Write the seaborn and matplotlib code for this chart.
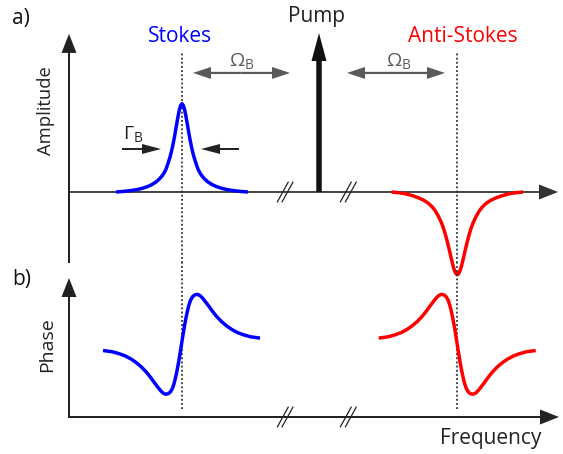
import matplotlib
matplotlib.use("Agg")
import matplotlib.pyplot as plt
import seaborn as sns
import pandas as pd
from matplotlib.patches import FancyArrowPatch

# ---------------- data ----------------
# frequency in arbitrary units measured from the axes origin
# amplitude normalised to the Stokes peak
stokes_freq = [4.7, 5.4, 6.1, 6.8, 7.4, 7.9, 8.3, 8.7, 9.0, 9.3, 9.5, 9.7, 9.9, 10.1,
               10.25, 10.4, 10.55, 10.7, 10.85, 11.0, 11.15, 11.3,
               11.45, 11.6, 11.75, 11.9, 12.05, 12.2, 12.35, 12.5, 12.7, 12.9, 13.1,
               13.3, 13.6, 13.9, 14.3, 14.7, 15.2, 15.8, 16.5, 17.2, 17.9]
stokes_amp = [0.0, 0.006, 0.015, 0.027, 0.044, 0.063, 0.085, 0.113, 0.143, 0.181, 0.215,
              0.258, 0.324, 0.395, 0.461, 0.538, 0.626, 0.724, 0.823, 0.913, 0.977, 1.0,
              0.977, 0.913, 0.823, 0.724, 0.626, 0.538, 0.461, 0.395, 0.324, 0.258, 0.215,
              0.181, 0.143, 0.113, 0.085, 0.063, 0.044, 0.027, 0.015, 0.006, 0.0]

anti_freq = [32.26, 33.03, 33.73, 34.43, 35.03, 35.53, 35.93, 36.33, 36.63, 36.93, 37.23,
             37.43, 37.63, 37.83, 38.03, 38.23, 38.38, 38.53, 38.68, 38.83,
             38.98, 39.13, 39.28, 39.43, 39.63, 39.83, 40.03, 40.23, 40.43, 40.73, 41.03,
             41.33, 41.73, 42.13, 42.63, 43.23, 43.93, 44.63, 45.4]
anti_amp = [0.0, -0.009, -0.022, -0.045, -0.070, -0.097, -0.127, -0.170, -0.214, -0.273,
            -0.344, -0.404, -0.476, -0.561, -0.655, -0.754, -0.824, -0.883, -0.923, -0.937,
            -0.923, -0.883, -0.824, -0.754, -0.655, -0.561, -0.476, -0.404, -0.344, -0.273,
            -0.214, -0.170, -0.127, -0.097, -0.070, -0.045, -0.022, -0.009, 0.0]

pump_freq = 25.0
pump_amp = 1.8

stokes_center = 11.3
anti_center = 38.83

# phase (arbitrary units above the frequency axis)
stokes_phase_freq = [3.4, 4.35, 5.05, 5.65, 6.25, 6.75, 7.25, 7.75, 8.15, 8.5, 8.85, 9.15,
                     9.4, 9.67, 9.95, 10.15, 10.35, 10.5, 10.65, 10.8, 10.95, 11.1, 11.25,
                     11.4, 11.55, 11.7, 11.85, 12.0, 12.15, 12.35, 12.55, 12.83, 13.1, 13.35,
                     13.65, 14.0, 14.35, 14.75, 15.25, 15.75, 16.25, 16.85, 17.45, 18.15, 19.1]
stokes_phase = [1.33, 1.304, 1.264, 1.219, 1.154, 1.084, 0.999, 0.894, 0.794, 0.697, 0.604,
                0.529, 0.479, 0.454, 0.469, 0.504, 0.574, 0.664, 0.784, 0.924, 1.084, 1.264,
                1.454, 1.644, 1.824, 1.984, 2.124, 2.244, 2.334, 2.404, 2.439, 2.454, 2.429,
                2.379, 2.304, 2.211, 2.114, 2.014, 1.909, 1.824, 1.754, 1.689, 1.644, 1.604,
                1.578]

anti_phase_freq = [30.97, 31.92, 32.62, 33.22, 33.82, 34.32, 34.82, 35.32, 35.72, 36.07,
                   36.42, 36.72, 36.97, 37.24, 37.52, 37.72, 37.92, 38.07, 38.22, 38.37,
                   38.52, 38.67, 38.82, 38.97, 39.12, 39.27, 39.42, 39.57, 39.72, 39.92,
                   40.12, 40.4, 40.67, 40.92, 41.22, 41.57, 41.92, 42.32, 42.82, 43.32,
                   43.82, 44.42, 45.02, 45.72, 46.67]
anti_phase = [1.578, 1.604, 1.644, 1.689, 1.754, 1.824, 1.909, 2.014, 2.114, 2.211, 2.304,
              2.379, 2.429, 2.454, 2.439, 2.404, 2.334, 2.244, 2.124, 1.984, 1.824, 1.644,
              1.454, 1.264, 1.084, 0.924, 0.784, 0.664, 0.574, 0.504, 0.469, 0.454, 0.479,
              0.529, 0.604, 0.697, 0.794, 0.894, 0.999, 1.084, 1.154, 1.219, 1.264, 1.304,
              1.33]

# ---------------- style ----------------
sns.set_theme(style="white")
plt.rcParams["font.family"] = ["Open Sans", "DejaVu Sans"]

W, H = 563, 454
fig = plt.figure(figsize=(W / 100, H / 100), dpi=100)
axA = fig.add_axes([0, 191 / H, 1, 263 / H])
axB = fig.add_axes([0, 0, 1, 191 / H])

BLUE = "#0000ff"
RED = "#ff0000"
DARK = "#222222"
GRAY = "#5a5a5a"


def arrow(ax, start, end, color, tail, hw, hl, z=3):
    ax.add_patch(FancyArrowPatch(
        start, end,
        arrowstyle=f"simple,tail_width={tail},head_width={hw},head_length={hl}",
        mutation_scale=0.72, fc=color, ec="none", lw=0,
        shrinkA=0, shrinkB=0, zorder=z, clip_on=False))


def ftext(x, y, s, **kw):
    fig.text(x / W, 1 - y / H, s, **kw)


# ---------------- curves ----------------
kw = dict(lw=2.5, solid_capstyle="butt", solid_joinstyle="round", zorder=5,
          legend=False, clip_on=False)
sns.lineplot(x=stokes_freq, y=stokes_amp, ax=axA, color=BLUE, **kw)
sns.lineplot(x=anti_freq, y=anti_amp, ax=axA, color=RED, **kw)
sns.lineplot(x=stokes_phase_freq, y=stokes_phase, ax=axB, color=BLUE, **kw)
sns.lineplot(x=anti_phase_freq, y=anti_phase, ax=axB, color=RED, **kw)
for ax in (axA, axB):
    ax.set_xlim(-6.9, 49.4)
    ax.axis("off")
axA.set_ylim(-0.804, 2.174)
axB.set_ylim(-0.74, 3.08)

# ---------------- axes arrows ----------------
arrow(axA, (0, -0.804), (0, 1.79), DARK, 2.0, 15, 19)
arrow(axA, (0, 0), (48.9, 0), "#333333", 1.8, 15, 19, z=2)
arrow(axB, (0, 0), (0, 2.78), DARK, 2.0, 15, 19)
arrow(axB, (-0.1, 0), (49.0, 0), DARK, 2.0, 15, 19)

# break marks
for ax, dy in ((axA, 10 / 88.3), (axB, 0.2)):
    for bx in (21.38, 21.85, 27.68, 28.18):
        ax.plot([bx - 0.55, bx + 0.55], [-dy, dy], color=DARK, lw=0.9, zorder=4)

# resonance dotted lines
for c in (stokes_center, anti_center):
    axA.vlines(c, -0.804, 1.574, color="#333333", lw=1.3, linestyles=(0, (1, 1.3)), zorder=1)
    axB.vlines(c, 0.16, 3.08, color="#333333", lw=1.3, linestyles=(0, (1, 1.3)), zorder=1)

# pump
arrow(axA, (pump_freq, 0), (pump_freq, pump_amp), "#111111", 5.5, 15, 28, z=4)

# Omega_B double arrows
yo = 1.348
for a, b in ((12.4, 22.1), (27.8, 37.6)):
    m = (a + b) / 2
    arrow(axA, (m, yo), (a, yo), GRAY, 2.2, 12, 18)
    arrow(axA, (m, yo), (b, yo), GRAY, 2.2, 12, 18)

# Gamma_B arrows
yg = 0.487
arrow(axA, (5.3, yg), (9.2, yg), DARK, 2.0, 10, 19)
arrow(axA, (17.0, yg), (13.2, yg), DARK, 2.0, 10, 19)

# ---------------- text ----------------
FS = 15
ftext(12, 24, "a)", fontsize=FS, color="#111111", ha="left", va="baseline")
ftext(12, 285, "b)", fontsize=FS, color="#111111", ha="left", va="baseline")
ftext(317, 22, "Pump", fontsize=FS, color=DARK, ha="center", va="baseline")
ftext(180, 42, "Stokes", fontsize=FS, color=BLUE, ha="center", va="baseline")
ftext(463, 42, "Anti-Stokes", fontsize=FS, color=RED, ha="center", va="baseline")
ftext(491, 444, "Frequency", fontsize=FS, color=DARK, ha="center", va="baseline")
ftext(46, 111, "Amplitude", fontsize=13.2, color=DARK, ha="center", va="center", rotation=90)
ftext(47, 345, "Phase", fontsize=14, color=DARK, ha="center", va="center", rotation=90)
ftext(133, 134, r"$\mathregular{\Gamma_B}$", fontsize=14, color=DARK, ha="center", va="center")
ftext(242, 61, r"$\mathregular{\Omega_B}$", fontsize=14, color=GRAY, ha="center", va="center")
ftext(399, 61, r"$\mathregular{\Omega_B}$", fontsize=14, color=GRAY, ha="center", va="center")

fig.savefig("out.png", dpi=100)
